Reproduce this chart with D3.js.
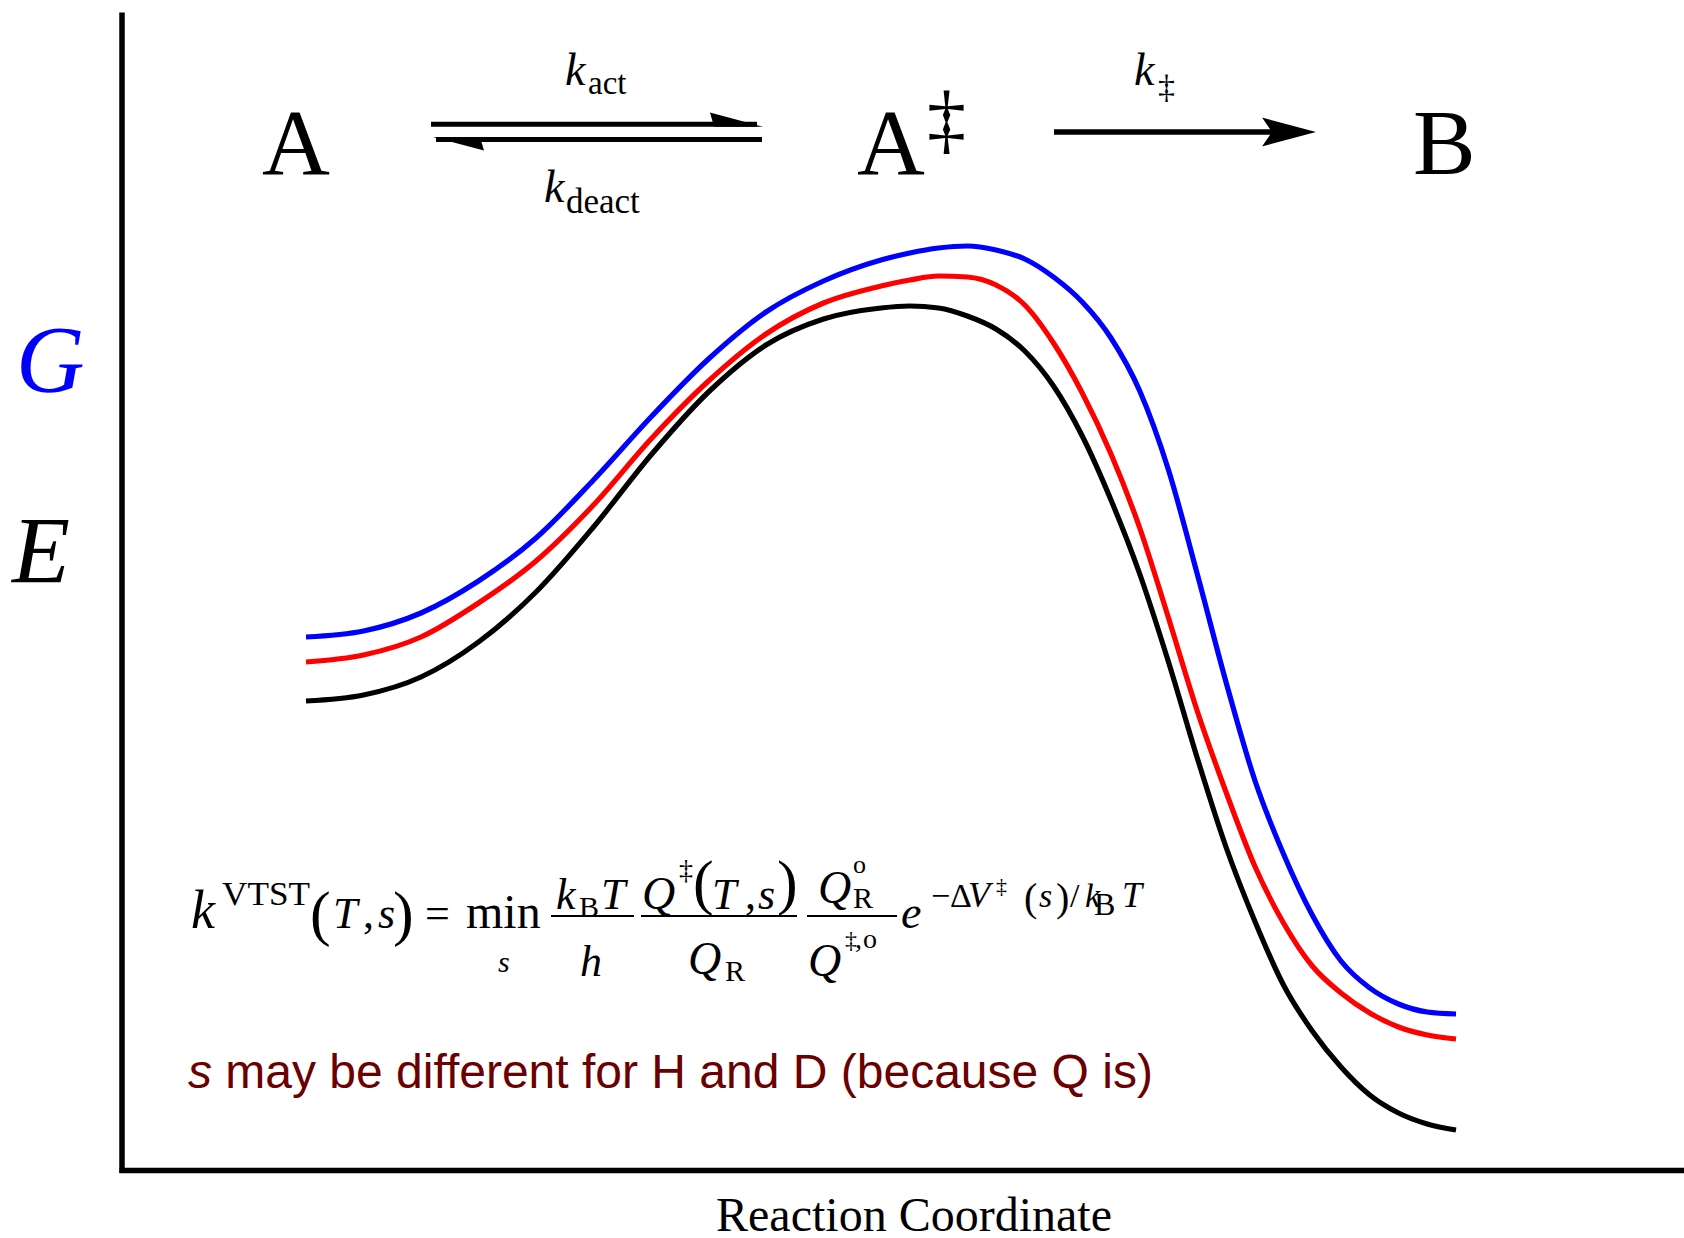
<!DOCTYPE html>
<html>
<head>
<meta charset="utf-8">
<script src="https://cdn.jsdelivr.net/npm/d3@7"></script>
<style>
  html, body { margin: 0; padding: 0; background: #fff; }
  svg { display: block; }
</style>
</head>
<body>
<svg id="chart" width="1684" height="1238"></svg>
<script>
// ---------------- data ----------------
const reactionCoord = [0, 5, 10, 15, 20, 25, 30, 35, 40, 45, 50, 52.5, 55, 57.5, 60, 62.5, 65, 67.5, 70, 72.5, 75, 77.5, 80, 82.5, 85, 87.5, 90, 92.5, 95, 97.5, 100];
const freeEnergyG = [53.3, 53.9, 55.7, 58.9, 63.2, 69.0, 75.3, 81.1, 85.8, 88.9, 91.0, 91.7, 92.2, 92.4, 92.0, 91.1, 89.3, 86.8, 83.2, 77.9, 70.0, 59.6, 48.8, 39.0, 31.6, 25.5, 20.9, 18.2, 16.6, 15.8, 15.6];
const middleCurve = [50.8, 51.5, 53.3, 56.7, 60.9, 66.5, 73.1, 78.9, 83.6, 86.7, 88.4, 89.0, 89.4, 89.3, 88.5, 86.5, 82.7, 77.7, 71.6, 64.2, 55.2, 45.9, 37.8, 30.4, 24.7, 20.4, 17.7, 15.7, 14.3, 13.5, 13.1];
const potentialE = [46.9, 47.5, 49.3, 52.8, 57.8, 64.3, 71.5, 77.8, 82.5, 85.1, 86.2, 86.4, 86.2, 85.4, 84.1, 81.9, 78.4, 73.4, 67.0, 59.6, 50.8, 41.2, 32.3, 24.9, 18.5, 13.9, 10.3, 7.5, 5.7, 4.6, 4.0];
const seriesNames = ["G", "intermediate", "E"];
const seriesColors = ["#0000ff", "#ff0000", "#000000"];
const yAxisLabels = ["G", "E"];
const xAxisTitle = "Reaction Coordinate";
const schemeSpecies = ["A", "A", "B"];
const noteText = ["s", " may be different for H and D (because Q is)"];

// ---------------- setup ----------------
const svg = d3.select("#chart");
svg.append("rect").attr("width", 1684).attr("height", 1238).attr("fill", "#fff");
const SERIF = "'Liberation Serif', 'Times New Roman', serif";
const SANS = "'Liberation Sans', Arial, sans-serif";

const x = d3.scaleLinear().domain([0, 100]).range([306, 1456]);
const y = d3.scaleLinear().domain([0, 115.8]).range([1170, 12]);

// frame axes (no ticks)
const xFrame = d3.scaleLinear().domain([0, 1]).range([119, 1684]);
const yFrame = d3.scaleLinear().domain([0, 1]).range([1172.5, 12]);
const gx = svg.append("g").attr("transform", "translate(0,1170)")
  .call(d3.axisBottom(xFrame).tickValues([]).tickSizeOuter(0));
const gy = svg.append("g").attr("transform", "translate(121.5,0)")
  .call(d3.axisLeft(yFrame).tickValues([]).tickSizeOuter(0));
[gx, gy].forEach(g => g.select(".domain").attr("stroke", "#000").attr("stroke-width", 5.5));

// curves
const allSeries = [freeEnergyG, middleCurve, potentialE];
const line = d3.line().x(d => x(d[0])).y(d => y(d[1])).curve(d3.curveMonotoneX);
allSeries.forEach((s, i) => {
  svg.append("path")
    .datum(reactionCoord.map((c, j) => [c, s[j]]))
    .attr("d", line)
    .attr("fill", "none")
    .attr("stroke", seriesColors[i])
    .attr("stroke-width", 5.2)
    .attr("stroke-linecap", "butt");
});

// ---------------- text helper ----------------
function txt(str, px, py, size, opt = {}) {
  const t = svg.append("text")
    .attr("x", px).attr("y", py)
    .attr("font-family", opt.family || SERIF)
    .attr("font-size", size)
    .attr("font-style", opt.italic ? "italic" : "normal")
    .attr("fill", opt.fill || "#000")
    .text(str);
  if (opt.anchor) t.attr("text-anchor", opt.anchor);
  if (opt.len) t.attr("textLength", opt.len).attr("lengthAdjust", "spacingAndGlyphs");
  if (opt.weight) t.attr("font-weight", opt.weight);
  return t;
}
function hline(x1, x2, yy, w) {
  svg.append("line").attr("x1", x1).attr("x2", x2).attr("y1", yy).attr("y2", yy)
    .attr("stroke", "#000").attr("stroke-width", w);
}

// axis labels
txt(yAxisLabels[0], 16, 392, 95, { italic: true, fill: "#0000ff" });
txt(yAxisLabels[1], 12, 583, 95, { italic: true });
txt(xAxisTitle, 914, 1231, 48, { anchor: "middle" });

// ---------------- reaction scheme ----------------
txt(schemeSpecies[0], 262, 174, 94);
txt(schemeSpecies[1], 857, 174, 94);
txt("\u2021", 927, 145, 78);
txt(schemeSpecies[2], 1413, 174, 94);

// equilibrium harpoons
hline(431, 757, 124.2, 5);
svg.append("path").attr("d", "M710,112.5 L763,126.7 L714,126.7 Z").attr("fill", "#000");
hline(436, 762, 139.5, 5);
svg.append("path").attr("d", "M433,137 L484,150.5 L480,137 Z").attr("fill", "#000");
txt("k", 565, 85, 46, { italic: true });
txt("act", 588, 94, 33);
txt("k", 544, 202, 46, { italic: true });
txt("deact", 566, 213, 35);

// forward arrow
hline(1054, 1280, 132, 5.5);
svg.append("path").attr("d", "M1316,132 L1262,117.5 L1272,132 L1262,146.5 Z").attr("fill", "#000");
txt("k", 1134, 85, 46, { italic: true });
txt("\u2021", 1158, 98, 34);

// ---------------- formula ----------------
txt("k", 191, 928, 54, { italic: true });
txt("VTST", 222, 905, 33, { len: 88 });
txt("(", 310, 934, 62);
txt("T", 333, 928, 44, { italic: true });
txt(",", 363, 928, 44);
txt("s", 378, 928, 44, { italic: true });
txt(")", 393, 934, 62);
txt("=", 425, 928, 44);
txt("min", 466, 928, 48);
txt("s", 498, 972, 30, { italic: true });
// frac 1
txt("k", 556, 909, 44, { italic: true });
txt("B", 579, 917, 30);
txt("T", 601, 909, 44, { italic: true });
hline(551, 634, 916, 2);
txt("h", 580, 976, 44, { italic: true });
// frac 2
txt("Q", 642, 909, 46, { italic: true });
txt("\u2021", 679, 879, 28);
txt("(", 693, 903, 62);
txt("T", 712, 909, 44, { italic: true });
txt(",", 745, 909, 44);
txt("s", 758, 909, 44, { italic: true });
txt(")", 777, 903, 62);
hline(641, 797, 916, 2);
txt("Q", 688, 974, 46, { italic: true });
txt("R", 725, 981, 30);
// frac 3
txt("Q", 818, 903, 46, { italic: true });
txt("o", 853, 873, 26);
txt("R", 853, 908, 30);
hline(807, 897, 916, 2);
txt("Q", 808, 976, 46, { italic: true });
txt("\u2021", 845, 948, 24);
txt(",", 855, 948, 28);
txt("o", 863, 948, 28);
// exponential
txt("e", 901, 928, 46, { italic: true });
txt("\u2212", 931, 907, 34);
txt("\u0394", 950, 907, 34);
txt("V", 968, 907, 36, { italic: true });
txt("\u2021", 996, 893, 22);
txt("(", 1024, 911, 40);
txt("s", 1039, 907, 34, { italic: true });
txt(")", 1056, 911, 40);
txt("/", 1070, 907, 34);
txt("k", 1085, 907, 34, { italic: true });
txt("B", 1094, 915, 32);
txt("T", 1122, 907, 36, { italic: true });

// note
const note = svg.append("text").attr("x", 188).attr("y", 1088)
  .attr("font-family", SANS).attr("font-size", 48).attr("fill", "#6b0000");
note.append("tspan").attr("font-style", "italic").text(noteText[0]);
note.append("tspan").text(noteText[1]);
</script>
</body>
</html>
